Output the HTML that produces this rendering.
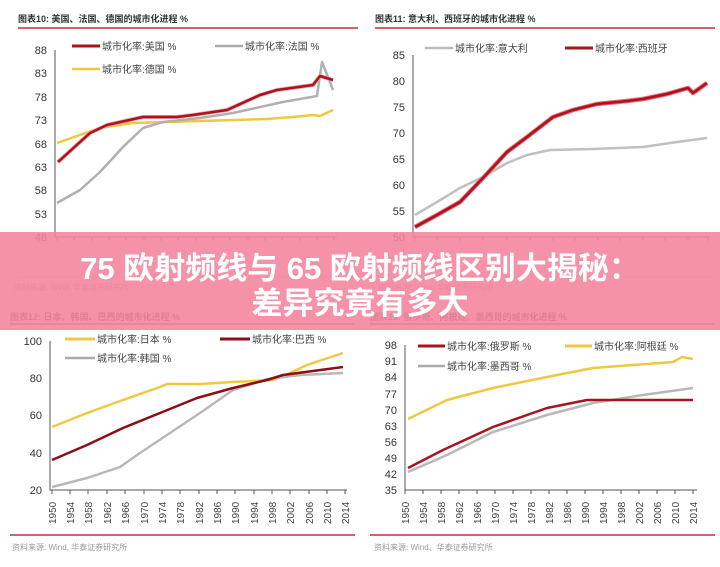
<!DOCTYPE html>
<html><head><meta charset="utf-8"><style>
body{margin:0;width:720px;height:567px;overflow:hidden;background:#fff;font-family:"Liberation Sans","Noto Sans CJK SC",sans-serif}
svg{position:absolute;left:0;top:0}
.banner{position:absolute;left:0;top:232px;width:720px;height:98px;background:rgba(244,134,158,0.9);}
.bt{position:absolute;left:0;width:720px;text-align:center;color:#fff;font-weight:bold;font-size:31px;font-family:"Liberation Sans","Noto Sans CJK SC",sans-serif;line-height:36px}
</style></head><body>
<svg width="720" height="567" viewBox="0 0 720 567" font-family="Liberation Sans, Noto Sans CJK SC, sans-serif">
<g font-size="9" fill="#333" font-weight="bold">
<text x="18" y="22">图表10:  美国、法国、德国的城市化进程 %</text>
<text x="375" y="22">图表11:  意大利、西班牙的城市化进程 %</text>
<text x="10" y="320">图表12:  日本、韩国、巴西的城市化进程 %</text>
<text x="370" y="320">图表13:  俄罗斯、阿根廷、墨西哥的城市化进程 %</text>
</g>
<g stroke="#c0303a" stroke-width="1.5">
<line x1="18" y1="28" x2="358" y2="28"/><line x1="375" y1="28" x2="715" y2="28"/>
<line x1="10" y1="324" x2="355" y2="324"/><line x1="370" y1="324" x2="715" y2="324"/>
<line x1="10" y1="535" x2="355" y2="535"/><line x1="370" y1="535" x2="715" y2="535"/>
</g>
<g stroke="#ccc" stroke-width="1"><line x1="18" y1="277" x2="358" y2="277"/><line x1="375" y1="277" x2="715" y2="277"/></g>
<g font-size="8" fill="#999"><text x="14" y="290">资料来源: Wind, 华泰证券研究所</text><text x="378" y="290">资料来源: Wind, 华泰证券研究所</text>
<text x="12" y="550">资料来源: Wind, 华泰证券研究所</text><text x="374" y="550">资料来源: Wind、华泰证券研究所</text></g>
<g stroke="#555" stroke-width="1" fill="none">
<path d="M55 50V237H337"/><path d="M413 55V237H710"/><path d="M50 341V490H347"/><path d="M405 345V490H697"/>
<path d="M57 237v4M74 237v4M92 237v4M109 237v4M126 237v4M144 237v4M161 237v4M178 237v4M196 237v4M213 237v4M230 237v4M248 237v4M265 237v4M282 237v4M300 237v4M317 237v4M334 237v4"/>
<path d="M415 237v4M437 237v4M460 237v4M483 237v4M507 237v4M530 237v4M553 237v4M575 237v4M598 237v4M620 237v4M643 237v4M665 237v4M688 237v4M708 237v4"/>
<path d="M52 490v4M70 490v4M88 490v4M107 490v4M125 490v4M144 490v4M162 490v4M180 490v4M199 490v4M217 490v4M235 490v4M254 490v4M272 490v4M290 490v4M309 490v4M327 490v4M345 490v4"/>
<path d="M405 490v4M423 490v4M441 490v4M459 490v4M477 490v4M495 490v4M513 490v4M531 490v4M549 490v4M567 490v4M585 490v4M603 490v4M621 490v4M639 490v4M657 490v4M675 490v4M693 490v4"/>
</g>
<g font-size="11" fill="#333" text-anchor="end">
<text x="47" y="54">88</text><text x="47" y="77">83</text><text x="47" y="101">78</text><text x="47" y="124">73</text><text x="47" y="148">68</text><text x="47" y="171">63</text><text x="47" y="194">58</text><text x="47" y="218">53</text><text x="47" y="241">48</text>
<text x="405" y="59">85</text><text x="405" y="85">80</text><text x="405" y="111">75</text><text x="405" y="137">70</text><text x="405" y="163">65</text><text x="405" y="189">60</text><text x="405" y="215">55</text><text x="405" y="241">50</text>
<text x="42" y="345">100</text><text x="42" y="382">80</text><text x="42" y="419">60</text><text x="42" y="457">40</text><text x="42" y="494">20</text>
<text x="397" y="349">98</text><text x="397" y="365">91</text><text x="397" y="381">84</text><text x="397" y="398">77</text><text x="397" y="414">70</text><text x="397" y="430">63</text><text x="397" y="446">56</text><text x="397" y="462">49</text><text x="397" y="478">42</text><text x="397" y="494">35</text>
</g>
<g font-size="10" fill="#444">
<text transform="translate(56,524) rotate(-90)">1950</text><text transform="translate(74,524) rotate(-90)">1954</text><text transform="translate(92,524) rotate(-90)">1958</text><text transform="translate(111,524) rotate(-90)">1962</text><text transform="translate(129,524) rotate(-90)">1966</text><text transform="translate(148,524) rotate(-90)">1970</text><text transform="translate(166,524) rotate(-90)">1974</text><text transform="translate(184,524) rotate(-90)">1978</text><text transform="translate(203,524) rotate(-90)">1982</text><text transform="translate(221,524) rotate(-90)">1986</text><text transform="translate(239,524) rotate(-90)">1990</text><text transform="translate(258,524) rotate(-90)">1994</text><text transform="translate(276,524) rotate(-90)">1998</text><text transform="translate(294,524) rotate(-90)">2002</text><text transform="translate(313,524) rotate(-90)">2006</text><text transform="translate(331,524) rotate(-90)">2010</text><text transform="translate(349,524) rotate(-90)">2014</text>
<text transform="translate(409,524) rotate(-90)">1950</text><text transform="translate(427,524) rotate(-90)">1954</text><text transform="translate(445,524) rotate(-90)">1958</text><text transform="translate(463,524) rotate(-90)">1962</text><text transform="translate(481,524) rotate(-90)">1966</text><text transform="translate(499,524) rotate(-90)">1970</text><text transform="translate(517,524) rotate(-90)">1974</text><text transform="translate(535,524) rotate(-90)">1978</text><text transform="translate(553,524) rotate(-90)">1982</text><text transform="translate(571,524) rotate(-90)">1986</text><text transform="translate(589,524) rotate(-90)">1990</text><text transform="translate(607,524) rotate(-90)">1994</text><text transform="translate(625,524) rotate(-90)">1998</text><text transform="translate(643,524) rotate(-90)">2002</text><text transform="translate(661,524) rotate(-90)">2006</text><text transform="translate(679,524) rotate(-90)">2010</text><text transform="translate(697,524) rotate(-90)">2014</text>
</g>
<g font-size="10" fill="#444">
<line x1="72" y1="46" x2="100" y2="46" stroke="#a8141e" stroke-width="3"/><text x="102" y="50">城市化率:美国 %</text>
<line x1="215" y1="46" x2="243" y2="46" stroke="#aaa" stroke-width="2.5"/><text x="245" y="50">城市化率:法国 %</text>
<line x1="72" y1="69" x2="100" y2="69" stroke="#f0c840" stroke-width="2.5"/><text x="102" y="73">城市化率:德国 %</text>
<line x1="425" y1="48" x2="453" y2="48" stroke="#bbb" stroke-width="2.5"/><text x="455" y="52">城市化率:意大利</text>
<line x1="565" y1="48" x2="593" y2="48" stroke="#a8141e" stroke-width="3"/><text x="595" y="52">城市化率:西班牙</text>
<line x1="65" y1="339" x2="95" y2="339" stroke="#f0c840" stroke-width="3"/><text x="97" y="343">城市化率:日本 %</text>
<line x1="220" y1="339" x2="250" y2="339" stroke="#8a0f18" stroke-width="3"/><text x="252" y="343">城市化率:巴西 %</text>
<line x1="65" y1="358" x2="95" y2="358" stroke="#aaa" stroke-width="2.5"/><text x="97" y="362">城市化率:韩国 %</text>
<line x1="418" y1="346" x2="445" y2="346" stroke="#a8141e" stroke-width="3"/><text x="447" y="350">城市化率:俄罗斯 %</text>
<line x1="565" y1="346" x2="592" y2="346" stroke="#f0c840" stroke-width="3"/><text x="594" y="350">城市化率:阿根廷 %</text>
<line x1="418" y1="366" x2="445" y2="366" stroke="#aaa" stroke-width="2.5"/><text x="447" y="370">城市化率:墨西哥 %</text>
</g>
<g fill="none" stroke-linejoin="round">
<polyline stroke="#f0c840" stroke-width="2.5" points="57,143 100,128 133,123 167,122 233,120 267,119 293,117 313,115 320,116 333,110"/>
<polyline stroke="#b0b0b0" stroke-width="2.5" points="57,203 80,190 100,172 123,147 143,128 163,122 200,118 233,113 283,102 317,96 322,62 333,90"/>
<polyline stroke="#f4a0a8" stroke-width="4" points="58,162 90,133 107,125 143,117 177,117 193,115 227,110 260,95 277,90 313,85 320,76 333,80"/>
<polyline stroke="#a8141e" stroke-width="2.5" points="58,162 90,133 107,125 143,117 177,117 193,115 227,110 260,95 277,90 313,85 320,76 333,80"/>
<polyline stroke="#c0c0c0" stroke-width="2.5" points="415,215 437,202 460,188 483,177 507,163 527,155 550,150 593,149 643,147 677,142 707,138"/>
<polyline stroke="#f06070" stroke-width="4.5" points="415,227 437,215 460,202 483,178 507,152 527,137 553,117 573,110 597,104 627,101 643,99 667,94 688,88 693,93 707,83"/>
<polyline stroke="#a8141e" stroke-width="2.5" points="415,227 437,215 460,202 483,178 507,152 527,137 553,117 573,110 597,104 627,101 643,99 667,94 688,88 693,93 707,83"/>
<polyline stroke="#f0c840" stroke-width="2.5" points="52,427 87,413 123,400 160,387 167,384 200,384 233,382 273,380 290,373 307,365 343,353"/>
<polyline stroke="#b8b8b8" stroke-width="2.5" points="52,487 87,478 120,467 140,453 167,435 200,413 233,390 267,379 300,375 343,373"/>
<polyline stroke="#8a0f18" stroke-width="2.5" points="52,460 87,445 123,428 160,413 197,398 233,388 267,380 283,375 343,367"/>
<polyline stroke="#f0c840" stroke-width="2.5" points="408,419 447,400 493,388 547,377 593,368 673,362 682,357 693,359"/>
<polyline stroke="#b8b8b8" stroke-width="2.5" points="408,472 447,455 493,432 547,415 593,403 643,395 693,388"/>
<polyline stroke="#a8141e" stroke-width="2.5" points="408,468 443,450 493,427 547,408 587,400 693,400"/>
</g>
</svg>
<div class="banner"></div>
<div class="bt" style="top:251px">75 欧射频线与 65 欧射频线区别大揭秘：</div>
<div class="bt" style="top:286px">差异究竟有多大</div>
</body></html>
